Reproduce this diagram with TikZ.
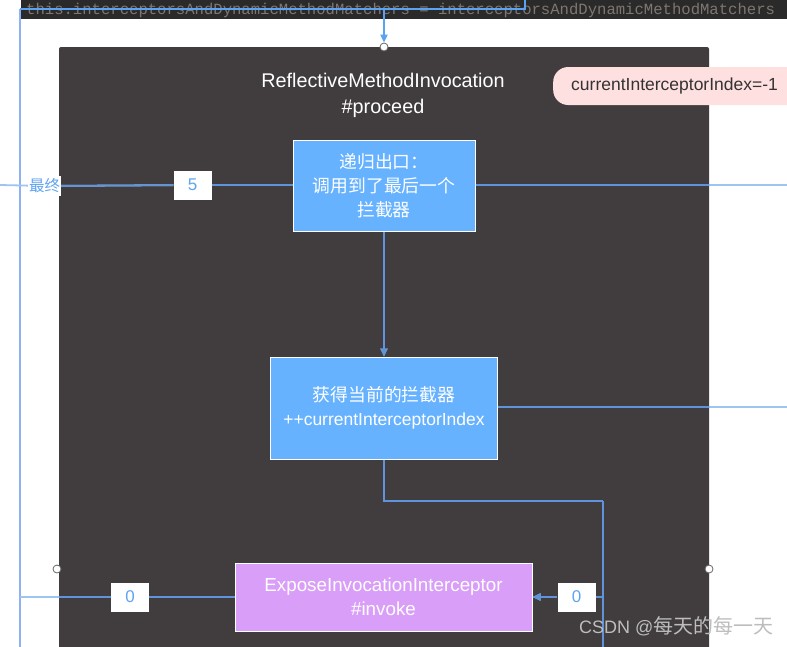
\documentclass[tikz,border=0pt]{standalone}
\usepackage{fontspec}
\setmainfont{Liberation Sans}
\newfontfamily\cjk{Noto Sans CJK SC}
\newfontfamily\codefont{Liberation Mono}
\usetikzlibrary{arrows.meta}
\definecolor{bgdark}{HTML}{413D3E}
\definecolor{codebg}{HTML}{2B2A2B}
\definecolor{codetext}{HTML}{7E766F}
\definecolor{boxblue}{HTML}{66B2FF}
\definecolor{boxpurple}{HTML}{D99EF7}
\definecolor{pinkpill}{HTML}{FFE0E1}
\definecolor{numblue}{HTML}{5FA4F2}
\definecolor{lineOut}{HTML}{9DC5F0}
\definecolor{lineIn}{HTML}{5F93DA}
\definecolor{lineTop}{HTML}{5AA2F2}
\definecolor{wmgray}{HTML}{BDBDBD}
\newcommand\drawconnectors{%
  \draw[conn] (b1.west |- l5) -- (l5) -- (zz) -- (farL5);
  \draw[conn] (b1.east |- right1) -- (right1);
  \draw[conn,-{Triangle[length=8pt,width=7pt]}] (b1) -- (b2);
  \draw[conn] (b2.east |- right2) -- (right2);
  \draw[conn] (b2.south) |- (bendR);
  \draw[conn,line width=2.8pt] (bendR) -- (botR);
  \draw[conn] (j3) -- (l0b);
  \draw[conn,-{Triangle[length=8pt,width=7pt]}] (l0b) -- (b3.east);
  \draw[conn] (b3) -- (l0a) -- (leftJ);
}
\begin{document}
\begin{tikzpicture}[x=1pt,y=-1pt,
  conn/.style={draw=lineOut,line width=1.8pt},
  bluebox/.style={fill=boxblue,draw=white,line width=1pt,text=white,align=center,
    font=\fontsize{17.5}{24}\selectfont},
  purplebox/.style={fill=boxpurple,draw=white,line width=1pt,text=white,align=center,
    font=\fontsize{18.8}{24}\selectfont},
  lbl/.style={fill=white,text=numblue,minimum width=38pt,minimum height=29pt,inner sep=0pt,
    font=\fontsize{17}{17}\selectfont},
  handle/.style={circle,fill=white,draw=black!60,line width=0.8pt,minimum size=8pt,inner sep=0pt}]
\useasboundingbox (0,0) rectangle (787,646);
\clip (0,0) rectangle (787,646);
\fill[white] (0,0) rectangle (787,646);
% code strip
\fill[codebg] (21,0) rectangle (787,19);
\node[anchor=base west,inner sep=0pt,text=codetext,font=\codefont\fontsize{15.6}{16}\selectfont] (code) at (26,14)
  {this.interceptorsAndDynamicMethodMatchers = interceptorsAndDynamicMethodMatchers};
% container
\fill[bgdark,rounded corners=2pt] (59,47) rectangle (709,680);
% coordinates
\coordinate (topRup) at (525,0);
\coordinate (topR) at (525,9);
\coordinate (topM) at (384,9);
\coordinate (topL) at (20,9);
\coordinate (leftBot) at (20,660);
\coordinate (farL5) at (0,185);
\coordinate (right1) at (787,185);
\coordinate (right2) at (787,407);
\coordinate (bendR) at (603,501);
\coordinate (botR) at (603,660);
\coordinate (j3) at (603,597);
\coordinate (leftJ) at (20,597);
% nodes
\node[bluebox,minimum width=182pt,minimum height=91pt,font=\cjk\fontsize{17.8}{24}\selectfont] (b1) at (384,185.5)
  {递归出口：\\调用到了最后一个\\拦截器};
\node[bluebox,minimum width=227pt,minimum height=102pt] (b2) at (384,408)
  {{\cjk\fontsize{17.8}{24}\selectfont 获得当前的拦截器}\\++currentInterceptorIndex};
\node[purplebox,minimum width=297pt,minimum height=68pt] (b3) at (383.5,597)
  {ExposeInvocationInterceptor\\\#invoke};
\node[lbl] (l5) at (192.5,185) {5};
\node[lbl] (l0a) at (130,597) {0};
\node[lbl] (l0b) at (576.5,597) {0};
\node[fill=white,text=numblue,inner xsep=1pt,inner ysep=3pt,font=\cjk\fontsize{15.5}{15.5}\selectfont] (zz) at (44.5,186) {最终};
% outer lines
\draw[draw=lineOut!90!blue,line width=2pt] (topL) -- (leftBot);
\drawconnectors
\begin{scope}
  \clip (59,47) rectangle (709,680);
  \tikzset{conn/.style={draw=lineIn,line width=1.8pt}}
  \drawconnectors
\end{scope}
% redraw label boxes over lines
\node[lbl] at (l5) {5};
\node[lbl] at (l0a) {0};
\node[lbl] at (l0b) {0};
\node[fill=white,text=numblue,inner xsep=1pt,inner ysep=3pt,font=\cjk\fontsize{15.5}{15.5}\selectfont] at (zz) {最终};
% top connector
\draw[draw=lineTop,line width=1.8pt] (topRup) -- (topR) -- (topL);
\node[handle] (c0) at (384,47) {};
\draw[draw=lineTop,line width=1.8pt,-{Triangle[length=8pt,width=7pt]}] (topM) -- (c0.north);
\node[handle] (cl) at (57,569) {};
\node[handle] (cr) at (709,569) {};
% title
\node[text=white,align=center,font=\fontsize{19.8}{26}\selectfont] (title) at (383,95)
  {ReflectiveMethodInvocation\\\#proceed};
% pill
\node[fill=pinkpill,rounded corners=15pt,anchor=west,inner xsep=18pt,minimum height=38pt,
  text width=240pt,align=left,text=black!80,font=\fontsize{17.5}{17.5}\selectfont] (idx) at (553,86)
  {currentInterceptorIndex=-1};
% watermark
\node[anchor=base west,inner sep=0pt,text=wmgray,font=\fontsize{18}{18}\selectfont] (wm) at (579,633)
  {CSDN @{\cjk\fontsize{20}{20}\selectfont 每天的每一天}};
\end{tikzpicture}
\end{document}
